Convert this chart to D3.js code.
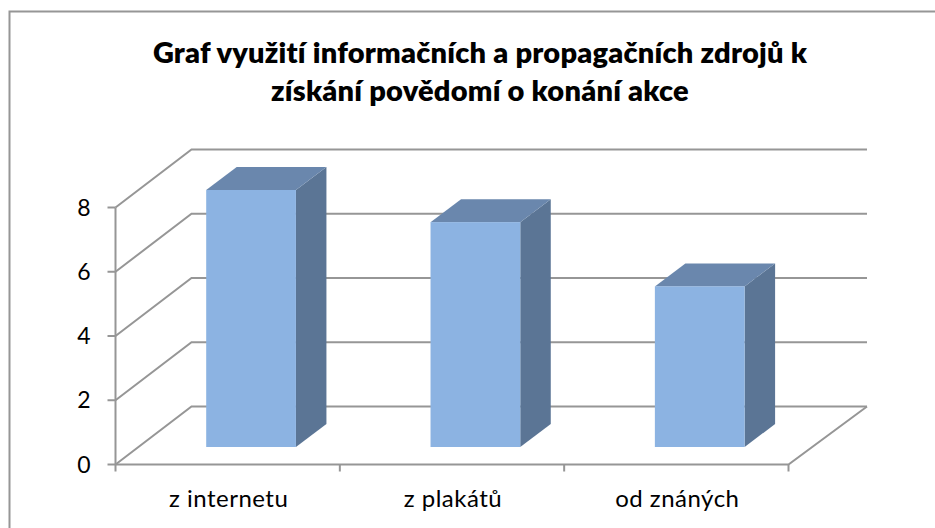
<!DOCTYPE html>
<html><head><meta charset="utf-8">
<script src="https://d3js.org/d3.v7.min.js"></script>
<style>html,body{margin:0;padding:0;background:#fff}svg{display:block}</style></head>
<body><svg id="c" width="935" height="528"></svg>
<script>
const categories = ["z internetu", "z plakátů", "od znáných"];
const values = [8, 7, 5];
const yTicks = [0, 2, 4, 6, 8];
const titleLines = ["Graf využití informačních a propagačních zdrojů k", "získání povědomí o konání akce"];

const W = 935, H = 528;
const left = 115.5, right = 788.5, floorY = 464.5, topY = 207.5;
const depthX = 76, depthY = -58, backRight = 867;
const font = "Lato,'Open Sans',sans-serif";
const grid = "#969696";

const svg = d3.select("#c").attr("viewBox", [0, 0, W, H]);
const x = d3.scaleBand().domain(categories).range([left, right]).paddingInner(0.6).paddingOuter(0.3);
const y = d3.scaleLinear().domain([0, 8]).range([floorY, topY]);

// outer frame
svg.append("path").attr("d", `M9.5 ${H} V11.5 H${W}`).attr("fill", "none").attr("stroke", grid).attr("stroke-width", 2);

// title
svg.append("g").selectAll("text").data(titleLines).join("text")
  .attr("x", 480).attr("y", (d, i) => 63 + i * 37.5)
  .attr("text-anchor", "middle").attr("font-family", font).attr("font-weight", 800)
  .attr("font-size", 29).attr("letter-spacing", 0.22).attr("fill", "#000").text(d => d);

// walls and gridlines
const g = svg.append("g").attr("fill", "none").attr("stroke", grid).attr("stroke-width", 2);
yTicks.forEach(t => {
  g.append("path").attr("d", `M${left} ${y(t)} l${depthX} ${depthY} H${backRight}`);
  g.append("path").attr("d", `M${left - 8} ${y(t)} H${left}`);
});
g.append("path").attr("d", `M${left} ${topY} V${floorY + 7}`);
g.append("path").attr("d", `M${left} ${floorY} H${right} L${backRight} ${floorY + depthY}`);
[1, 2, 3].forEach(i => {
  const tx = left + i * x.step();
  g.append("path").attr("d", `M${tx} ${floorY} v7`);
});

// 3D bars
const off = 23.4, offY = -17.5, dx = 30.5, dy = -23;
const bars = svg.append("g").selectAll("g").data(categories).join("g");
bars.each(function (c, i) {
  const b = d3.select(this);
  const x0 = x(c) + off, x1 = x0 + x.bandwidth();
  const yTop = y(values[i]) + offY, yBot = y(0) + offY;
  b.append("path").attr("fill", "#5b7595").attr("d", `M${x1} ${yTop} l${dx} ${dy} V${yBot + dy} L${x1} ${yBot}Z`);
  b.append("path").attr("fill", "#6a87ad").attr("d", `M${x0} ${yTop} l${dx} ${dy} H${x1 + dx} L${x1} ${yTop}Z`);
  b.append("rect").attr("x", x0).attr("y", yTop).attr("width", x.bandwidth()).attr("height", yBot - yTop).attr("fill", "#8cb3e2");
});

// axis labels
svg.append("g").selectAll("text").data(yTicks).join("text")
  .attr("x", 90.5).attr("y", d => y(d) + 8).attr("text-anchor", "end")
  .attr("font-family", font).attr("font-size", 23).attr("fill", "#000").text(d => d);
svg.append("g").selectAll("text").data(categories).join("text")
  .attr("x", c => x(c) + x.bandwidth() / 2 + 1).attr("y", 507).attr("text-anchor", "middle")
  .attr("font-family", font).attr("font-size", 24).attr("letter-spacing", 0.5).attr("fill", "#000").text(d => d);
</script></body></html>
